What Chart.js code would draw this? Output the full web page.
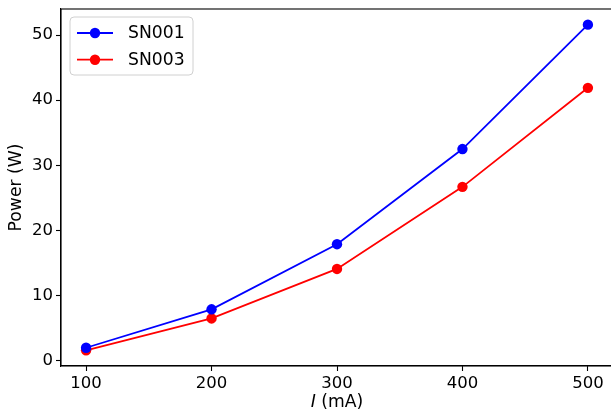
<!DOCTYPE html>
<html>
<head>
<meta charset="utf-8">
<script src="https://cdn.jsdelivr.net/npm/chart.js@4"></script>
<style>
  html, body { margin: 0; padding: 0; background: #fff; overflow: hidden; }
  #wrap { width: 614px; height: 415px; }
</style>
</head>
<body>
<div id="wrap"><canvas id="c" width="614" height="415"></canvas></div>
<script>
// Drive current (mA) and output power (W) for two units
const currents = [100, 200, 300, 400, 500];
const powerSN001 = [2.0, 7.9, 17.9, 32.5, 51.6];
const powerSN003 = [1.6, 6.5, 14.1, 26.7, 41.9];
const seriesNames = ['SN001', 'SN003'];
const xTicks = [100, 200, 300, 400, 500];
const yTicks = [0, 10, 20, 30, 40, 50];

const FONT = 'DejaVu Sans';
const FS = 16.5;      // tick labels
const FS_LABEL = 17.2; // axis titles and legend

const toPoints = (xs, ys) => xs.map((x, i) => ({ x: x, y: ys[i] }));

// Frame around the plot area, italic-I axis title and boxed legend
const decorations = {
  id: 'decorations',
  afterDatasetsDraw(chart) {
    const { ctx, chartArea: a } = chart;
    ctx.save();
    ctx.strokeStyle = '#000';
    ctx.lineWidth = 1.1;
    ctx.strokeRect(a.left, a.top, a.right - a.left, a.bottom - a.top);

    // x axis title: italic "I" followed by " (mA)"
    const p1 = 'I', p2 = ' (mA)';
    ctx.fillStyle = '#000';
    ctx.textBaseline = 'middle';
    ctx.font = 'italic ' + FS_LABEL + 'px "' + FONT + '"';
    const w1 = ctx.measureText(p1).width;
    ctx.font = FS_LABEL + 'px "' + FONT + '"';
    const w2 = ctx.measureText(p2).width;
    const cx = (a.left + a.right) / 2;
    let tx = cx - (w1 + w2) / 2;
    ctx.textAlign = 'left';
    ctx.font = 'italic ' + FS_LABEL + 'px "' + FONT + '"';
    ctx.fillText(p1, tx, 403);
    ctx.font = FS_LABEL + 'px "' + FONT + '"';
    ctx.fillText(p2, tx + w1, 403);

    // legend box
    const bx = 70, by = 17, bw = 123, bh = 58, r = 4;
    ctx.beginPath();
    ctx.moveTo(bx + r, by);
    ctx.arcTo(bx + bw, by, bx + bw, by + bh, r);
    ctx.arcTo(bx + bw, by + bh, bx, by + bh, r);
    ctx.arcTo(bx, by + bh, bx, by, r);
    ctx.arcTo(bx, by, bx + bw, by, r);
    ctx.closePath();
    ctx.fillStyle = 'rgba(255,255,255,0.8)';
    ctx.fill();
    ctx.strokeStyle = '#d0d0d0';
    ctx.lineWidth = 1;
    ctx.stroke();

    chart.data.datasets.forEach((ds, i) => {
      const y = 33 + i * 26.7;
      ctx.strokeStyle = ds.borderColor;
      ctx.lineWidth = ds.borderWidth;
      ctx.beginPath();
      ctx.moveTo(77, y);
      ctx.lineTo(113, y);
      ctx.stroke();
      ctx.fillStyle = ds.backgroundColor;
      ctx.beginPath();
      ctx.arc(95, y, ds.pointRadius, 0, Math.PI * 2);
      ctx.fill();
      ctx.fillStyle = '#000';
      ctx.textAlign = 'left';
      ctx.textBaseline = 'middle';
      ctx.font = FS_LABEL + 'px "' + FONT + '"';
      ctx.fillText(ds.label, 128, y + 1);
    });
    ctx.restore();
  }
};

new Chart(document.getElementById('c'), {
  type: 'line',
  data: {
    datasets: [
      {
        label: seriesNames[0],
        data: toPoints(currents, powerSN001),
        borderColor: '#0000ff',
        backgroundColor: '#0000ff',
        borderWidth: 1.8,
        pointRadius: 5.2,
        pointBorderWidth: 0,
        tension: 0
      },
      {
        label: seriesNames[1],
        data: toPoints(currents, powerSN003),
        borderColor: '#ff0000',
        backgroundColor: '#ff0000',
        borderWidth: 1.8,
        pointRadius: 5.2,
        pointBorderWidth: 0,
        tension: 0
      }
    ]
  },
  options: {
    responsive: false,
    animation: false,
    devicePixelRatio: 1,
    layout: { autoPadding: false, padding: { top: 9, left: 0, right: 1, bottom: 0 } },
    plugins: { legend: { display: false }, tooltip: { enabled: false } },
    scales: {
      x: {
        type: 'linear',
        min: 80,
        max: 520,
        afterFit(s) { s.height = 49; s.paddingLeft = 0; s.paddingRight = 0; },
        afterBuildTicks(s) { s.ticks = xTicks.map(v => ({ value: v })); },
        grid: { drawOnChartArea: false, drawTicks: true, tickLength: 5, color: '#000', tickWidth: 1.1 },
        border: { display: true, color: '#000', width: 1.1 },
        ticks: { color: '#000', padding: 3, maxRotation: 0, font: { family: FONT, size: FS } },
        title: { display: false }
      },
      y: {
        type: 'linear',
        min: -0.8,
        max: 54,
        afterFit(s) { s.width = 61; s.paddingTop = 0; s.paddingBottom = 0; },
        afterBuildTicks(s) { s.ticks = yTicks.map(v => ({ value: v })); },
        grid: { drawOnChartArea: false, drawTicks: true, tickLength: 5, color: '#000', tickWidth: 1.1 },
        border: { display: true, color: '#000', width: 1.1 },
        ticks: { color: '#000', padding: 3, font: { family: FONT, size: FS } },
        title: {
          display: true,
          text: 'Power (W)',
          color: '#000',
          padding: { top: 6.5, bottom: 0 },
          font: { family: FONT, size: FS_LABEL }
        }
      }
    }
  },
  plugins: [decorations]
});
</script>
</body>
</html>
